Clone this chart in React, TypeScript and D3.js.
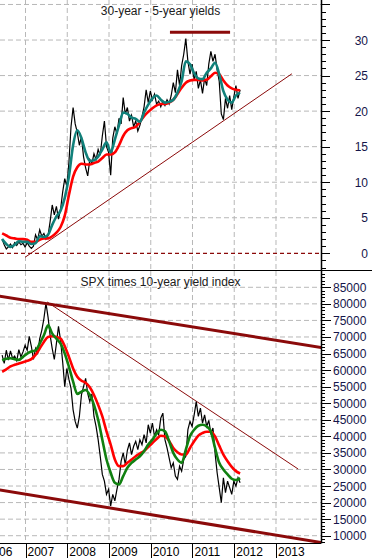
import * as d3 from "d3";

// time axis: decimal years, raw series sampled every 0.05 yr, averages every 0.1 yr
const SERIES_START = 2006.44;
const RAW_STEP = 0.05;
const MA_STEP = 0.1;

const YEARS = [2006, 2007, 2008, 2009, 2010, 2011, 2012, 2013];
const TOP_TICKS = [0, 5, 10, 15, 20, 25, 30, 35];
const BOTTOM_TICKS = [10000, 15000, 20000, 25000, 30000, 35000, 40000, 45000, 50000, 55000, 60000, 65000, 70000, 75000, 80000, 85000];

// 30-year minus 5-year yield spread
const spreadRaw = [
  2.0, 1.2, 0.6, 0.9, 1.3, 0.8, 1.5, 1.1, 1.6, 1.2,
  1.4, 0.9, 1.5, 1.0, 0.7, 1.0, 2.6, 1.9, 3.3, 2.4,
  2.8, 2.0, 2.5, 4.5, 6.8, 5.4, 6.6, 4.8, 6.2, 8.6,
  10.5, 9.4, 12.8, 17.8, 20.5, 18.2, 17.0, 15.2, 16.4, 13.6,
  12.0, 10.9, 13.2, 12.6, 14.0, 13.2, 14.6, 13.8, 16.5, 18.6,
  15.0, 14.2, 11.0, 16.2, 17.8, 16.8, 19.0, 18.2, 21.9, 19.6,
  20.5, 18.6, 19.4, 17.8, 18.6, 17.2, 18.0, 19.2, 20.6, 23.0,
  21.2, 22.8, 21.6, 22.4, 21.0, 21.4, 20.6, 21.4, 20.8, 21.6,
  21.0, 22.2, 24.0, 22.6, 25.8, 23.6, 26.4, 28.0, 30.2, 27.0,
  25.2, 26.6, 24.4, 25.6, 23.2, 24.4, 22.5, 24.6, 23.6, 26.6,
  28.4, 27.0, 28.0, 25.8, 24.2, 19.6, 18.8, 21.8, 20.4, 22.2,
  20.2, 22.0, 23.6, 21.8, 23.0,
];
const spreadFast = [
  2.0, 1.3, 0.9, 1.2, 1.7, 1.6, 1.6, 1.3, 1.4, 2.4,
  2.3, 2.6, 4.0, 5.2, 6.0, 7.8, 10.8, 15.2, 17.3, 16.2,
  14.2, 13.0, 13.1, 13.6, 14.6, 15.6, 14.2, 16.0, 18.0, 19.8,
  19.6, 19.1, 18.9, 18.5, 19.8, 20.9, 21.8, 22.2, 21.6, 21.2,
  21.3, 21.6, 22.6, 24.2, 27.0, 26.6, 25.3, 24.6, 24.5, 25.4,
  26.0, 26.8, 25.2, 22.8, 21.6, 21.2, 22.2, 22.6,
];
const spreadSlow = [
  2.8, 2.5, 2.2, 2.1, 2.0, 2.0, 1.9, 1.6, 1.6, 1.9,
  2.1, 2.1, 2.4, 2.9, 3.7, 5.3, 8.2, 10.8, 12.1, 12.6,
  12.5, 12.5, 12.7, 12.9, 13.4, 13.9, 13.9, 14.2, 15.2, 16.5,
  17.3, 17.6, 17.8, 18.5, 19.3, 19.9, 20.4, 20.8, 21.0, 21.0,
  21.2, 21.6, 22.4, 23.3, 24.0, 24.3, 24.4, 24.4, 24.3, 24.4,
  24.9, 25.4, 25.2, 24.3, 23.6, 23.2, 23.0, 22.9,
];

// SPX times 10-year yield index
const spxRaw = [
  64500, 62000, 66000, 63000, 65800, 63500, 64200, 62800, 66200, 64000,
  65500, 67500, 66000, 70200, 67200, 63200, 66500, 64800, 69500, 72000,
  75500, 80200, 76000, 70500, 66500, 63200, 68000, 73200, 69000, 62500,
  55000, 60500, 57200, 54500, 48000, 44500, 42500, 46000, 52500, 55000,
  57500, 53000, 50500, 52800, 46000, 43000, 39000, 34000, 28500, 26500,
  22500, 24000, 19000, 22500, 20500, 24000, 27000, 32500, 35000, 31500,
  35800, 38000, 34500, 37000, 38500, 36000, 39000, 37500, 40500, 38000,
  43500, 41000, 44000, 40000, 42000, 40500, 45500, 47000, 39000, 36500,
  33500, 30500, 32000, 28000, 27000, 31000, 29500, 33000, 34000, 42000,
  44500, 43000, 46500, 50500, 46000, 48500, 44000, 46500, 43000, 44800,
  41000, 42500, 35000, 29000, 24500, 20000, 27500, 23000, 26500, 24500,
  22500, 26500, 25000, 27500, 26000,
];
const spxFast = [
  63000, 63400, 63600, 63300, 63100, 64000, 65000, 65600, 66000, 68000,
  70500, 73500, 71000, 69500, 68000, 65000, 61000, 56500, 52800, 53500,
  54000, 52500, 49500, 45000, 39000, 33000, 29000, 26000, 25500, 28000,
  30500, 32000, 33000, 34000, 35500, 37500, 39000, 40800, 42000, 41500,
  38500, 35000, 33000, 32000, 36000, 40000, 42000, 43200, 43500, 43000,
  41500, 36500, 32000, 30000, 28500, 27200, 26800, 27400,
];
const spxSlow = [
  59500, 60200, 61100, 61600, 62000, 62400, 62800, 63300, 64600, 66500,
  68500, 70000, 70200, 70000, 69500, 67200, 64000, 60500, 58000, 56800,
  56200, 54800, 52500, 49500, 46000, 41500, 37500, 33000, 31000, 31000,
  32000, 33000, 34000, 34800, 35600, 36800, 38000, 39200, 40200, 40000,
  38600, 36500, 35200, 34500, 34500, 36500, 38500, 40200, 41000, 41400,
  41400, 40000, 37200, 34500, 32500, 30800, 29500, 28800,
];

// hand-drawn trend lines [year, value]
const spreadTrend = [[2006.99, -0.56], [2013.38, 25.25]];
const spreadCap = [[2010.46, 31.1], [2011.9, 31.1]];
const spxUpper = [[2006.3, 82450], [2014.2, 66600]];
const spxLower = [[2006.3, 24000], [2014.2, 7700]];
const spxDown = [[2007.52, 80560], [2013.53, 30140]];

const PLOT_W = 321;
const TOP = { y0: 0, y1: 270 };
const BOT = { y0: 271, y1: 543 };
const FONT = "Arial, 'Liberation Sans', sans-serif";
const GRID = "#b8b8b8";
const TREND = "#8b0a0a";

const x = d3.scaleLinear().domain([2006.389, 2014.078]).range([0, PLOT_W]);
const yTop = d3.scaleLinear().domain([-2.35, 35.63]).range([TOP.y1, TOP.y0]);
const yBot = d3.scaleLinear().domain([7800, 89920]).range([BOT.y1, BOT.y0]);

const toPts = (vals: number[], step: number) =>
  vals.map((v, i) => [SERIES_START + i * step, v] as [number, number]);

export default function App() {
  const lineTop = d3.line<[number, number]>().x((d) => x(d[0])).y((d) => yTop(d[1]));
  const lineBot = d3.line<[number, number]>().x((d) => x(d[0])).y((d) => yBot(d[1]));
  const smoothTop = lineTop.curve(d3.curveMonotoneX);
  const smoothBot = lineBot.curve(d3.curveMonotoneX);
  const rawTop = d3.line<[number, number]>().x((d) => x(d[0])).y((d) => yTop(d[1]));
  const rawBot = d3.line<[number, number]>().x((d) => x(d[0])).y((d) => yBot(d[1]));

  const topMinor = d3.range(-2, 36, 1);
  const botMinor = d3.range(8000, 90000, 1000);

  return (
    <div style={{ position: "fixed", left: 0, top: 0, width: 372, height: 558, background: "#fff" }}>
      <svg width={372} height={558} style={{ display: "block", fontFamily: FONT }}>
        <defs>
          <clipPath id="clipTop"><rect x={0} y={TOP.y0} width={PLOT_W} height={TOP.y1 - TOP.y0} /></clipPath>
          <clipPath id="clipBot"><rect x={0} y={BOT.y0} width={PLOT_W} height={BOT.y1 - BOT.y0} /></clipPath>
        </defs>

        {/* grid */}
        {YEARS.filter((yr) => x(yr) > 0).map((yr) => (
          <g key={yr}>
            <line x1={x(yr)} x2={x(yr)} y1={TOP.y0} y2={TOP.y1} stroke={GRID} strokeDasharray="5,3" />
            <line x1={x(yr)} x2={x(yr)} y1={BOT.y0} y2={BOT.y1} stroke={GRID} strokeDasharray="5,3" />
          </g>
        ))}
        {TOP_TICKS.filter((t) => t !== 0).map((t) => (
          <line key={t} x1={0} x2={PLOT_W} y1={yTop(t)} y2={yTop(t)} stroke={GRID} strokeDasharray="5,3" />
        ))}
        {BOTTOM_TICKS.map((t) => (
          <line key={t} x1={0} x2={PLOT_W} y1={yBot(t)} y2={yBot(t)} stroke={GRID} strokeDasharray="5,3" />
        ))}

        {/* titles */}
        <text x={160.5} y={15} textAnchor="middle" fontSize={12} fill="#202020">30-year - 5-year yields</text>
        <text x={160.5} y={286} textAnchor="middle" fontSize={12} fill="#202020">SPX times 10-year yield index</text>

        {/* top panel */}
        <g clipPath="url(#clipTop)">
          <line x1={0} x2={PLOT_W} y1={yTop(0)} y2={yTop(0)} stroke={TREND} strokeWidth={1.2} strokeDasharray="4,3" />
          <path d={lineTop(spreadTrend as [number, number][]) ?? ""} fill="none" stroke={TREND} strokeWidth={1} />
          <path d={lineTop(spreadCap as [number, number][]) ?? ""} fill="none" stroke={TREND} strokeWidth={3} />
          <path d={rawTop(toPts(spreadRaw, RAW_STEP)) ?? ""} fill="none" stroke="#000" strokeWidth={1.2} />
          <path d={smoothTop(toPts(spreadSlow, MA_STEP)) ?? ""} fill="none" stroke="#ff0000" strokeWidth={2.6} />
          <path d={smoothTop(toPts(spreadFast, MA_STEP)) ?? ""} fill="none" stroke="#11807a" strokeWidth={2.6} />
        </g>

        {/* bottom panel */}
        <g clipPath="url(#clipBot)">
          <path d={lineBot(spxDown as [number, number][]) ?? ""} fill="none" stroke={TREND} strokeWidth={1} />
          <path d={rawBot(toPts(spxRaw, RAW_STEP)) ?? ""} fill="none" stroke="#000" strokeWidth={1.2} />
          <path d={smoothBot(toPts(spxSlow, MA_STEP)) ?? ""} fill="none" stroke="#ff0000" strokeWidth={2.6} />
          <path d={smoothBot(toPts(spxFast, MA_STEP)) ?? ""} fill="none" stroke="#118011" strokeWidth={2.6} />
          <path d={lineBot(spxUpper as [number, number][]) ?? ""} fill="none" stroke={TREND} strokeWidth={3} />
          <path d={lineBot(spxLower as [number, number][]) ?? ""} fill="none" stroke={TREND} strokeWidth={3} />
        </g>

        {/* frame */}
        <line x1={0} x2={372} y1={270.5} y2={270.5} stroke="#000" />
        <line x1={0} x2={PLOT_W} y1={543.5} y2={543.5} stroke="#000" />
        <line x1={PLOT_W + 0.5} x2={PLOT_W + 0.5} y1={0} y2={543.5} stroke="#000" strokeWidth={1.5} />

        {/* right axis, top */}
        {topMinor.map((t) => (
          <line key={t} x1={PLOT_W} x2={PLOT_W + (t % 5 === 0 ? 9 : 5)} y1={Math.round(yTop(t)) + 0.5} y2={Math.round(yTop(t)) + 0.5} stroke="#000" />
        ))}
        {TOP_TICKS.filter((t) => t <= 30).map((t) => (
          <text key={t} x={368} y={yTop(t) + 4.5} textAnchor="end" fontSize={12} fill="#15154a">{t}</text>
        ))}

        {/* right axis, bottom */}
        {botMinor.map((t) => (
          <line key={t} x1={PLOT_W} x2={PLOT_W + (t % 5000 === 0 ? 10 : 4)} y1={Math.round(yBot(t)) + 0.5} y2={Math.round(yBot(t)) + 0.5} stroke="#000" />
        ))}
        {BOTTOM_TICKS.map((t) => (
          <text key={t} x={333} y={yBot(t) + 4.5} fontSize={12} fill="#15154a">{t}</text>
        ))}

        {/* year axis */}
        {YEARS.map((yr) => (
          <g key={yr}>
            <line x1={Math.round(x(yr)) + 0.5} x2={Math.round(x(yr)) + 0.5} y1={543.5} y2={558} stroke="#000" />
            <text x={x(yr) + 2} y={556} fontSize={12} fill="#000">{yr}</text>
          </g>
        ))}
      </svg>
    </div>
  );
}
